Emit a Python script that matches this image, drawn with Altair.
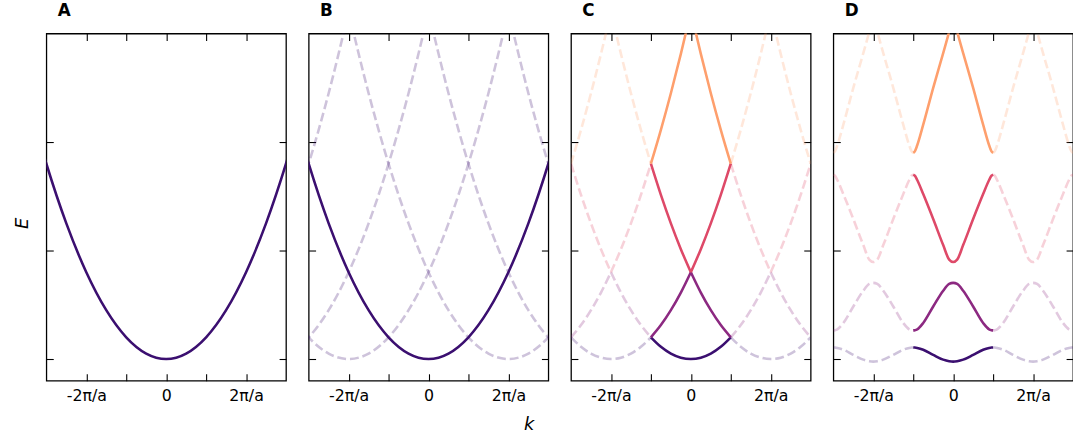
import altair as alt
import pandas as pd

# k in units of pi/a, E in units of the free-electron energy at k = pi/a
PANELS = ["A", "B", "C", "D"]
BAND_COLORS = ["#3b0f70", "#8c2981", "#de4968", "#fe9f6d"]

# free-electron parabola samples (offset from its centre, energy)
PAR_DK = [-4.0, -3.5, -3.0, -2.5, -2.0, -1.5, -1.0, -0.5, 0.0, 0.5, 1.0, 1.5, 2.0, 2.5, 3.0, 3.5, 4.0]
PAR_E = [16.0, 12.25, 9.0, 6.25, 4.0, 2.25, 1.0, 0.25, 0.0, 0.25, 1.0, 2.25, 4.0, 6.25, 9.0, 12.25, 16.0]
B_IMAGE_CENTERS = [-6.0, -4.0, -2.0, 2.0, 4.0, 6.0]

# panel C: bands in first zone (left half, mirrored for right half)
C_HALF_K = [-1.0, -0.75, -0.5, -0.25, 0.0]
C_BAND_HALF_E = [
    [1.0, 0.5625, 0.25, 0.0625, 0.0],
    [1.0, 1.5625, 2.25, 3.0625, 4.0],
    [9.0, 7.5625, 6.25, 5.0625, 4.0],
    [9.0, 10.5625, 12.25, 14.0625, 16.0],
]
C_BAND_SMOOTH = [True, False, False, False]

# panel D: nearly-free-electron bands (left half, symmetric)
D_HALF_K = [-1.0, -0.96, -0.9, -0.75, -0.5, -0.25, -0.1, 0.0]
D_BAND_HALF_E = [
    [0.53, 0.527, 0.51, 0.43, 0.19, -0.03, -0.1, -0.12],
    [1.32, 1.33, 1.37, 1.66, 2.42, 3.15, 3.46, 3.51],
    [8.5, 8.45, 8.25, 7.6, 6.45, 5.25, 4.58, 4.47],
    [9.5, 9.57, 9.85, 10.8, 12.5, 14.1, 15.1, 15.9],
]
ZONE_SHIFTS = [-2.0, 2.0]

X_TICKS = [-2, -1, 0, 1, 2]
Y_TICKS = [0, 5, 10]

solid_rows = {p: [] for p in PANELS}
dashed_rows = {p: [] for p in PANELS}


def add(store, panel, seg, ks, es, color):
    for k, e in zip(ks, es):
        store[panel].append({"k": k, "E": e, "seg": seg, "color": color})


def mirror(ks, es):
    return [-k for k in reversed(ks)], list(reversed(es))


# A and B: free electron
add(solid_rows, "A", "free", PAR_DK, PAR_E, BAND_COLORS[0])
add(solid_rows, "B", "free", PAR_DK, PAR_E, BAND_COLORS[0])
for c in B_IMAGE_CENTERS:
    add(dashed_rows, "B", f"img{c}", [c + d for d in PAR_DK], PAR_E, BAND_COLORS[0])

# C: extended zone pieces
for b, half in enumerate(C_BAND_HALF_E):
    rk, re = mirror(C_HALF_K, half)
    if C_BAND_SMOOTH[b]:
        segs = [(C_HALF_K + rk[1:], half + re[1:])]
    else:
        segs = [(C_HALF_K, half), (rk, re)]
    for i, (ks, es) in enumerate(segs):
        add(solid_rows, "C", f"b{b}s{i}", ks, es, BAND_COLORS[b])
        for s in ZONE_SHIFTS:
            add(dashed_rows, "C", f"b{b}s{i}sh{s}", [k + s for k in ks], es, BAND_COLORS[b])

# D: gapped bands
for b, half in enumerate(D_BAND_HALF_E):
    rk, re = mirror(D_HALF_K, half)
    ks, es = D_HALF_K + rk[1:], half + re[1:]
    add(solid_rows, "D", f"b{b}", ks, es, BAND_COLORS[b])
    for s in ZONE_SHIFTS:
        add(dashed_rows, "D", f"b{b}sh{s}", [k + s for k in ks], es, BAND_COLORS[b])

X_SCALE = alt.Scale(domain=[-3, 3], nice=False, zero=False)
Y_SCALE = alt.Scale(domain=[-1, 15], nice=False, zero=False)
FONT = "DejaVu Sans"
LABEL_EXPR = "datum.value == 0 ? '0' : datum.value == -2 ? '-2π/a' : datum.value == 2 ? '2π/a' : ''"


def panel(p):
    layers = []
    enc = dict(
        x=alt.X("k:Q", scale=X_SCALE, axis=None),
        y=alt.Y("E:Q", scale=Y_SCALE, axis=None),
        color=alt.Color("color:N", scale=None),
        detail="seg:N",
    )
    if dashed_rows[p]:
        layers.append(
            alt.Chart(pd.DataFrame(dashed_rows[p]))
            .mark_line(clip=True, strokeWidth=2.6, strokeDash=[9, 4], opacity=0.25, interpolate="monotone")
            .encode(**enc)
        )
    layers.append(
        alt.Chart(pd.DataFrame(solid_rows[p]))
        .mark_line(clip=True, strokeWidth=2.6, interpolate="monotone")
        .encode(**enc)
    )

    axdf = pd.DataFrame({"k": [0.0], "E": [0.0]})
    bottom_kw = dict(orient="bottom", values=X_TICKS, tickSize=7, offset=-7, domain=False, grid=False,
                     labelExpr=LABEL_EXPR, labelPadding=7, labelFontSize=16, labelFont=FONT)
    if p == "B":
        bottom_kw.update(title="k", titleFontStyle="italic", titleFontWeight="normal", titleFontSize=18,
                         titleX=223, titleAlign="center", titlePadding=12, titleFont=FONT)
    else:
        bottom_kw.update(title=None)
    left_kw = dict(orient="left", values=Y_TICKS, tickSize=7, offset=-7, domain=False, grid=False, labels=False)
    if p == "A":
        left_kw.update(title="E", titleFontStyle="italic", titleFontWeight="normal", titleFontSize=18,
                       titleY=192, titlePadding=15, titleFont=FONT)
    else:
        left_kw.update(title=None)
    ax1 = alt.Chart(axdf).mark_point(opacity=0).encode(
        x=alt.X("k:Q", scale=X_SCALE, axis=alt.Axis(**bottom_kw)),
        y=alt.Y("E:Q", scale=Y_SCALE, axis=alt.Axis(**left_kw)),
    )
    ax2 = alt.Chart(axdf).mark_point(opacity=0).encode(
        x=alt.X("k:Q", scale=X_SCALE, axis=alt.Axis(
            orient="top", values=X_TICKS, tickSize=7, offset=-7, domain=False, grid=False, labels=False,
            title=p, titleFontWeight="bold", titleFontSize=17, titleX=11, titleAlign="left",
            titleBaseline="alphabetic", titlePadding=18, titleFont=FONT)),
        y=alt.Y("E:Q", scale=Y_SCALE, axis=alt.Axis(
            orient="right", values=Y_TICKS, tickSize=7, offset=-7, domain=False, grid=False,
            labels=False, title=None)),
    )
    layers += [ax1, ax2]
    return (
        alt.layer(*layers)
        .resolve_axis(x="independent", y="independent")
        .properties(width=243, height=352)
    )


chart = (
    alt.hconcat(*[panel(p) for p in PANELS], spacing=19)
    .properties(padding={"left": 12, "top": -3, "right": -2, "bottom": -4})
    .configure_view(stroke="black", strokeWidth=1.3)
    .configure_axis(tickColor="black", tickWidth=1.1, labelColor="black", titleColor="black")
)

chart.save("out.html", embed_options={"renderer": "svg", "actions": False})
